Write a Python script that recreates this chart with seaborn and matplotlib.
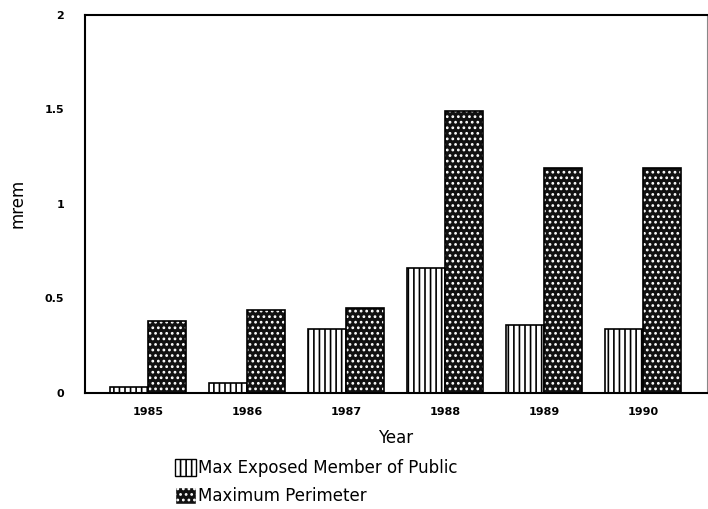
import pandas as pd
import numpy as np
import matplotlib.pyplot as plt
import seaborn as sns
from matplotlib.patches import Patch

# 数据
years = ['1985', '1986', '1987', '1988', '1989', '1990']
public = [0.03, 0.05, 0.34, 0.66, 0.36, 0.34]
perimeter = [0.38, 0.44, 0.45, 1.49, 1.19, 1.19]
series = ['Max Exposed Member of Public', 'Maximum Perimeter']

df = pd.DataFrame({
    'Year': years * 2,
    'mrem': public + perimeter,
    'series': [series[0]] * len(years) + [series[1]] * len(years),
})

sns.set_style('white')
plt.rcParams['font.family'] = ['DejaVu Sans']
plt.rcParams['hatch.linewidth'] = 1.2
plt.rcParams['text.color'] = 'black'
plt.rcParams['axes.labelcolor'] = 'black'
plt.rcParams['xtick.color'] = 'black'
plt.rcParams['ytick.color'] = 'black'

fig = plt.figure(figsize=(7.08, 5.09), dpi=100)
ax = fig.add_axes([0.120, 0.228, 0.878, 0.743])

sns.barplot(data=df, x='Year', y='mrem', hue='series', hue_order=series,
            palette=['white', 'black'], width=0.77, gap=0,
            edgecolor='black', linewidth=1.2, legend=False, ax=ax)

# 纹理
for bar in ax.containers[0]:
    bar.set_hatch('|||')
    bar.set_edgecolor('black')
for bar in ax.containers[1]:
    bar.set_facecolor('#111111')
    bar.set_hatch('...')
    bar.set_edgecolor('white')
    bar.set_linewidth(0)
    x0, y0 = bar.get_xy()
    ax.add_patch(plt.Rectangle((x0, y0), bar.get_width(), bar.get_height(),
                               fill=False, edgecolor='black', linewidth=1.2))

ax.set_xlim(-0.64, 5.64)
ax.set_ylim(0, 2)
ax.set_yticks([0, 0.5, 1, 1.5, 2])
ax.set_yticklabels(['0', '0.5', '1', '1.5', '2'])
ax.tick_params(axis='y', direction='in', length=5, width=1.2, labelsize=8, pad=15)
ax.tick_params(axis='x', length=0, labelsize=8, pad=10)
for lab in ax.get_xticklabels() + ax.get_yticklabels():
    lab.set_fontweight('bold')

for s in ['left', 'top', 'bottom']:
    ax.spines[s].set_linewidth(1.5)
    ax.spines[s].set_color('black')
ax.spines['right'].set_linewidth(0.8)
ax.spines['right'].set_color('#888888')

ax.set_xlabel('Year', fontsize=12, labelpad=9)
ax.set_ylabel('mrem', fontsize=12)
ax.yaxis.set_label_coords(-0.094, 0.5)

handles = [Patch(facecolor='white', edgecolor='black', hatch='|||'),
           Patch(facecolor='#111111', edgecolor='white', hatch='...')]
fig.legend(handles, series, loc='upper left', bbox_to_anchor=(0.235, 0.115),
           frameon=False, fontsize=12, handlelength=1.3, handleheight=1.2,
           handletextpad=0.1, labelspacing=0.62, borderpad=0)

plt.savefig('out.png', dpi=100)
